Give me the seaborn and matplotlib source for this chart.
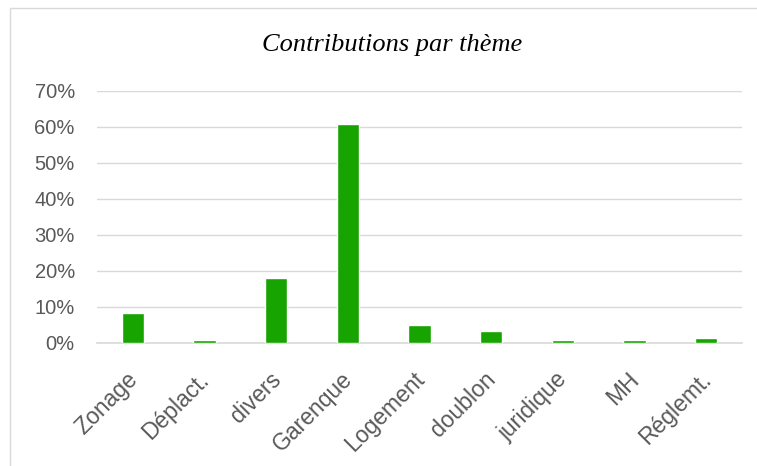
import matplotlib
matplotlib.use("Agg")
import matplotlib.pyplot as plt
import matplotlib.transforms as mtransforms
import seaborn as sns
import pandas as pd
from matplotlib.patches import Rectangle
from matplotlib.ticker import PercentFormatter

categories = ["Zonage", "Déplact.", "divers", "Garenque", "Logement", "doublon", "juridique", "MH", "Réglemt."]
values = [8.2, 0.7, 18.1, 60.9, 4.9, 3.2, 0.7, 0.7, 1.5]
yticks = [0, 10, 20, 30, 40, 50, 60, 70]
title = "Contributions par thème"

df = pd.DataFrame({"theme": categories, "pct": values})

sns.set_theme(style="white")
plt.rcParams["font.family"] = ["Liberation Sans", "DejaVu Sans"]

fig = plt.figure(figsize=(7.57, 4.66), dpi=100)
fig.patch.set_facecolor("white")
fig.patches.append(Rectangle((10/757, -0.05), 1.1, 1 - 8/466 + 0.05, transform=fig.transFigure,
                             fill=False, edgecolor="#D9D9D9", linewidth=1.0, zorder=0))

ax = fig.add_axes([97/757, 1 - 343/466, (742 - 97)/757, (343 - 91)/466])
sns.barplot(data=df, x="theme", y="pct", color="#17A300", saturation=1, width=0.31, ax=ax, zorder=3)

ax.set_ylim(0, 70)
ax.set_yticks(yticks)
ax.yaxis.set_major_formatter(PercentFormatter(decimals=0))
ax.grid(axis="y", color="#D9D9D9", linewidth=1.0, zorder=0)
ax.set_axisbelow(True)
for s in ["top", "right", "left"]:
    ax.spines[s].set_visible(False)
ax.spines["bottom"].set_color("#D9D9D9")
ax.spines["bottom"].set_linewidth(1.2)
ax.set_xlabel("")
ax.set_ylabel("")
ax.tick_params(axis="both", length=0, colors="#595959")
ax.tick_params(axis="y", pad=16, labelsize=14.5)
ax.tick_params(axis="x", pad=18, labelsize=16.5)
offset = mtransforms.ScaledTranslation(-7/100, 0, fig.dpi_scale_trans)
for lbl in ax.get_xticklabels():
    lbl.set_rotation(45)
    lbl.set_ha("right")
    lbl.set_rotation_mode("anchor")
    lbl.set_color("#595959")
    lbl.set_transform(lbl.get_transform() + offset)

fig.text(392/757, 1 - 45/466, title, ha="center", va="center", fontsize=19,
         family="Liberation Serif", style="italic", color="black")

fig.savefig("out.png", dpi=100, facecolor="white")
